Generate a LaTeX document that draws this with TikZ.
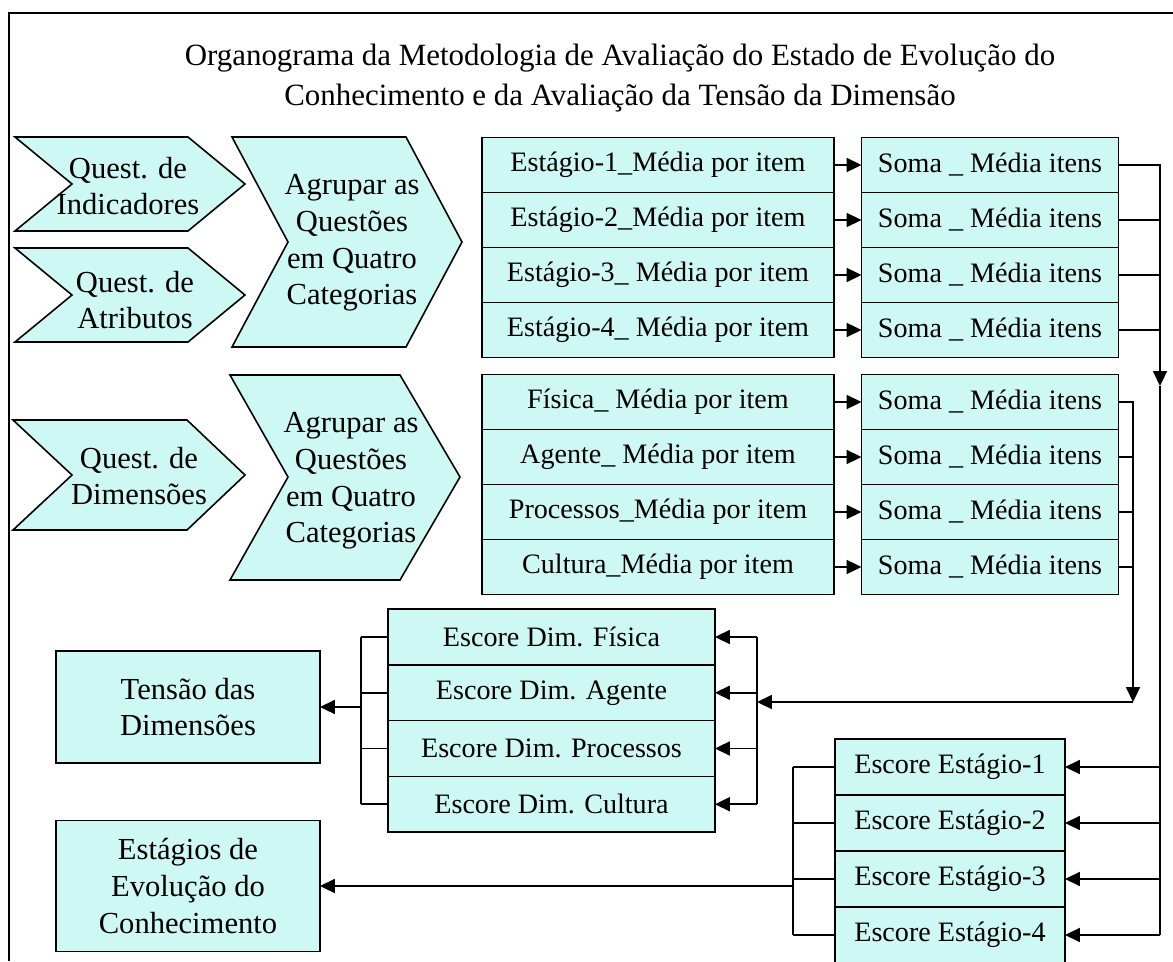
\documentclass[tikz,border=0pt]{standalone}
\usepackage{fontspec}
\setmainfont{Liberation Serif}
\usetikzlibrary{arrows.meta, positioning, calc}
\definecolor{boxfill}{RGB}{206,248,244}

\begin{document}
\begin{tikzpicture}[x=0.02cm, y=-0.02cm, line width=0.9pt,
      >={Triangle[length=8.5pt, width=8pt]},
      chev/.style={draw, fill=boxfill, line join=miter},
      item/.style={draw, fill=boxfill, rectangle, outer sep=0pt, inner sep=0pt, font=\fontsize{16}{19}\selectfont},
      media/.style={item, minimum width=7.04cm, minimum height=1.1cm},
      soma/.style={item, minimum width=5.14cm, minimum height=1.1cm},
      escdim/.style={item, minimum width=6.54cm, minimum height=1.115cm},
      escest/.style={item, minimum width=4.6cm, minimum height=1.12cm},
      result/.style={draw, fill=boxfill, outer sep=0pt, align=center, minimum width=5.28cm, font=\fontsize{17.4}{20.8}\selectfont},
      label_text/.style={align=center, font=\fontsize{17.4}{20.8}\selectfont}
  ]
  \useasboundingbox (0,0) rectangle (1173,961);

  % Frame and title
  \draw (9,961) -- (9,13) -- (1173,13);
  \node[align=center, font=\fontsize{17.6}{22.8}\selectfont] (title) at (620,78)
    {Organograma da Metodologia de Avaliação do Estado de Evolução do\\Conhecimento e da Avaliação da Tensão da Dimensão};

  % Questionnaire chevrons
  \draw[chev] (15,137) -- (188,137) -- (245,184) -- (188,231) -- (15,231) -- (72,184) -- cycle;
  \draw[chev] (15,248) -- (188,248) -- (245,295) -- (188,342) -- (15,342) -- (72,295) -- cycle;
  \draw[chev] (13,420) -- (187,420) -- (245,475) -- (187,530) -- (13,530) -- (72,475) -- cycle;
  \draw[chev] (232,137) -- (406,137) -- (462,242) -- (406,347) -- (232,347) -- (288,242) -- cycle;
  \draw[chev] (230,375) -- (400,375) -- (460,477) -- (400,580) -- (230,580) -- (288,477) -- cycle;

  \node[label_text] (qind) at (128,186) {Quest. de\\Indicadores};
  \node[label_text] (qatr) at (135,300) {Quest. de\\Atributos};
  \node[label_text] (qdim) at (139,476) {Quest. de\\Dimensões};
  \node[label_text] (agrupA) at (352,243) {Agrupar as\\Questões\\em Quatro\\Categorias};
  \node[label_text] (agrupB) at (351,481) {Agrupar as\\Questões\\em Quatro\\Categorias};

  % Averages per item
  \node[media] (e1) at (658,165) {Estágio-1\_Média por item};
  \node[media, below=0pt of e1] (e2) {Estágio-2\_Média por item};
  \node[media, below=0pt of e2] (e3) {Estágio-3\_ Média por item};
  \node[media, below=0pt of e3] (e4) {Estágio-4\_ Média por item};

  \node[media] (m1) at (658,402) {Física\_ Média por item};
  \node[media, below=0pt of m1] (m2) {Agente\_ Média por item};
  \node[media, below=0pt of m2] (m3) {Processos\_Média por item};
  \node[media, below=0pt of m3] (m4) {Cultura\_Média por item};

  % Sums of the averages
  \node[soma] (se1) at (990,165) {Soma \_ Média itens};
  \node[soma, below=0pt of se1] (se2) {Soma \_ Média itens};
  \node[soma, below=0pt of se2] (se3) {Soma \_ Média itens};
  \node[soma, below=0pt of se3] (se4) {Soma \_ Média itens};

  \node[soma] (sm1) at (990,402) {Soma \_ Média itens};
  \node[soma, below=0pt of sm1] (sm2) {Soma \_ Média itens};
  \node[soma, below=0pt of sm2] (sm3) {Soma \_ Média itens};
  \node[soma, below=0pt of sm3] (sm4) {Soma \_ Média itens};

  % Scores
  \node[escdim] (d1) at (551.5,637) {Escore Dim. Física};
  \node[escdim, below=0pt of d1] (d2) {Escore Dim. Agente};
  \node[escdim, below=0pt of d2] (d3) {Escore Dim. Processos};
  \node[escdim, below=0pt of d3] (d4) {Escore Dim. Cultura};

  \node[escest] (g1) at (950,767) {Escore Estágio-1};
  \node[escest, below=0pt of g1] (g2) {Escore Estágio-2};
  \node[escest, below=0pt of g2] (g3) {Escore Estágio-3};
  \node[escest, below=0pt of g3] (g4) {Escore Estágio-4};

  % Results
  \node[result, minimum height=2.24cm] (tensao) at (188,707) {Tensão das\\Dimensões};
  \node[result, minimum height=2.62cm] (estagios) at (188,886) {Estágios de\\Evolução do\\Conhecimento};

  % Junction points of the connectors
  \coordinate (busR) at (1160,386);
  \coordinate (busM) at (1133,702);
  \coordinate (busL) at (757,702);
  \coordinate (busD) at (361,707);
  \coordinate (busE) at (793,886);

  % Averages into sums
  \draw[->] (e1.east) -- (se1.west);
  \draw[->] (e2.east) -- (se2.west);
  \draw[->] (e3.east) -- (se3.west);
  \draw[->] (e4.east) -- (se4.west);
  \draw[->] (m1.east) -- (sm1.west);
  \draw[->] (m2.east) -- (sm2.west);
  \draw[->] (m3.east) -- (sm3.west);
  \draw[->] (m4.east) -- (sm4.west);

  % Stage sums down the right side into the stage scores
  \draw[->] (se1.east) -| (busR);
  \draw (busR) -- (busR |- g4.east);
  \draw (se2.east) -- (se2.east -| busR);
  \draw (se3.east) -- (se3.east -| busR);
  \draw (se4.east) -- (se4.east -| busR);
  \draw[->] (g1.east -| busR) -- (g1.east);
  \draw[->] (g2.east -| busR) -- (g2.east);
  \draw[->] (g3.east -| busR) -- (g3.east);
  \draw[->] (g4.east -| busR) -- (g4.east);

  % Dimension sums into the dimension scores
  \draw[->] (sm1.east) -| (busM);
  \draw (sm2.east) -- (sm2.east -| busM);
  \draw (sm3.east) -- (sm3.east -| busM);
  \draw (sm4.east) -- (sm4.east -| busM);
  \draw[->] (busM) -- (busL);
  \draw (busL |- d1.east) -- (busL |- d4.east);
  \draw[->] (busL |- d1.east) -- (d1.east);
  \draw[->] (busL |- d2.east) -- (d2.east);
  \draw[->] (busL |- d3.east) -- (d3.east);
  \draw[->] (busL |- d4.east) -- (d4.east);

  % Dimension scores into the tension
  \draw (busD |- d1.west) -- (busD |- d4.west);
  \draw (d1.west) -- (d1.west -| busD);
  \draw (d2.west) -- (d2.west -| busD);
  \draw (d3.west) -- (d3.west -| busD);
  \draw (d4.west) -- (d4.west -| busD);
  \draw[->] (busD) -- (tensao.east);

  % Stage scores into the stages of evolution
  \draw (busE |- g1.west) -- (busE |- g4.west);
  \draw (g1.west) -- (g1.west -| busE);
  \draw (g2.west) -- (g2.west -| busE);
  \draw (g3.west) -- (g3.west -| busE);
  \draw (g4.west) -- (g4.west -| busE);
  \draw[->] (busE) -- (estagios.east);

\end{tikzpicture}
\end{document}
